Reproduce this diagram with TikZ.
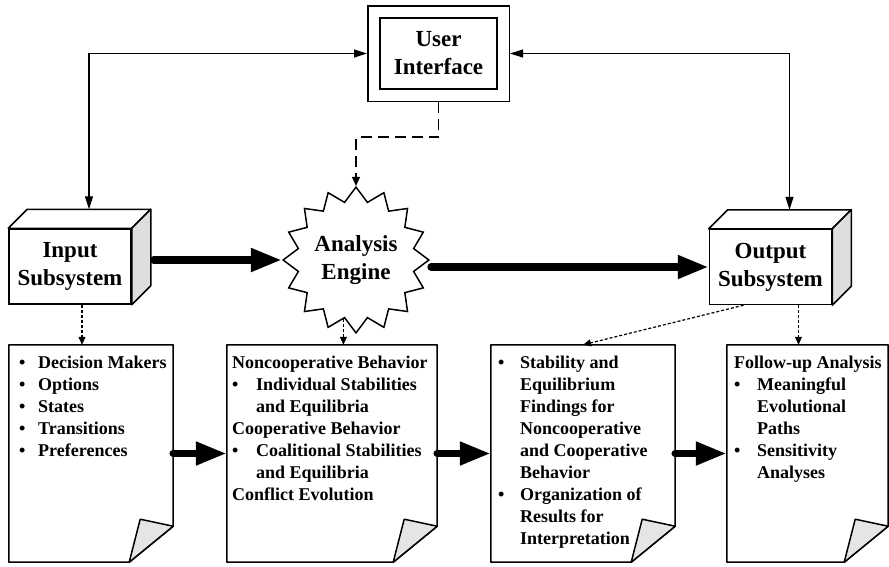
\documentclass[tikz,border=0pt]{standalone}
\usepackage{fontspec}
\setmainfont{Liberation Serif}
\usetikzlibrary{arrows.meta,calc,fit,shapes.geometric}

\definecolor{facegray}{gray}{0.87}
\definecolor{curlgray}{gray}{0.9}

% bullet item and indented continuation line inside a page
\newcommand{\bul}[2]{\makebox[#1][l]{\textbullet}#2}
\newcommand{\ind}[2]{\hspace*{#1}#2}

% 3-D depth of a subsystem box (top and right faces)
\newcommand{\cubedepth}[1]{%
  \draw[outline, line join=round, fill=white]
    (#1.north west) -- ++(19,-19) -- ($(#1.north east)+(19,-19)$) -- (#1.north east) -- cycle;
  \draw[outline, line join=round, fill=facegray]
    (#1.north east) -- ++(19,-19) -- ($(#1.south east)+(19,-19)$) -- (#1.south east) -- cycle;}

% page outline with a curled lower-right corner
\newcommand{\pageoutline}[1]{%
  \draw[outline, line join=round, fill=white]
    (#1.north west) -- (#1.north east) -- ($(#1.south east)+(0,-36)$)
    -- ($(#1.south east)+(-44,0)$) -- (#1.south west) -- cycle;
  \draw[outline, line join=round, fill=curlgray]
    ($(#1.south east)+(0,-36)$) -- ($(#1.south east)+(-33,-43)$)
    -- ($(#1.south east)+(-44,0)$) -- cycle;}

\begin{document}
\begin{tikzpicture}[x=1pt,y=-1pt,
  outline/.style={draw=black, line width=1.5pt},
  title/.style={font=\fontsize{23}{28}\selectfont\bfseries, align=center},
  facebox/.style={outline, fill=white, minimum width=122pt, minimum height=75pt, inner sep=0pt, title},
  pagebox/.style={minimum width=#1, minimum height=217pt, inner sep=0pt},
  pagetext/.style={font=\fontsize{18}{22}\selectfont\bfseries, anchor=base west, inner sep=0pt},
  thinarrow/.style={line width=1.2pt,
    {Triangle[length=13pt,width=8pt]}-{Triangle[length=13pt,width=8pt]}},
  dasharrow/.style={line width=1.3pt, dash pattern=on 11pt off 6pt,
    -{Triangle[length=9pt,width=8pt]}},
  dotarrow/.style={line width=1.2pt, dash pattern=on 3pt off 2pt,
    -{Triangle[length=8pt,width=7pt]}},
  bigarrow/.style={line width=7.5pt, line cap=round,
    -{Triangle[length=31pt,width=22pt]}}
]
\useasboundingbox (0,0) rectangle (889,566);

% user interface (double frame)
\node[outline, minimum width=117pt, minimum height=71pt, inner sep=0pt, title] (uiin) at (438.5,53.5) {User\\Interface};
\node[outline, fit=(uiin), inner sep=11.5pt] (ui) {};

% subsystems
\node[facebox] (in) at (70,266.5) {Input\\Subsystem};
\cubedepth{in}
\node[facebox] (out) at (770.5,267) {Output\\Subsystem};
\cubedepth{out}
\coordinate (intop) at ($(in.north)+(19,-19)$);
\coordinate (outtop) at ($(out.north)+(19,-19)$);

% analysis engine
\node[star, star points=16, star point ratio=1.24, minimum size=142pt, inner sep=0pt,
      outline, fill=white, title] (eng) at (356,260) {Analysis\\Engine};

% pages
\node[pagebox=164pt] (d1) at (91,453.5) {};
\node[pagebox=210pt] (d2) at (332,453.5) {};
\node[pagebox=184pt] (d3) at (583,453.5) {};
\node[pagebox=161pt] (d4) at (807.5,453.5) {};
\pageoutline{d1}
\pageoutline{d2}
\pageoutline{d3}
\pageoutline{d4}

\node[pagetext] (t1) at (19,368) {\begin{tabular}[t]{@{}l@{}}
  \bul{19pt}{Decision Makers}\\
  \bul{19pt}{Options}\\
  \bul{19pt}{States}\\
  \bul{19pt}{Transitions}\\
  \bul{19pt}{Preferences}
\end{tabular}};
\node[pagetext] (t2) at (232,368) {\begin{tabular}[t]{@{}l@{}}
  Noncooperative Behavior\\
  \bul{24pt}{Individual Stabilities}\\
  \ind{24pt}{and Equilibria}\\
  Cooperative Behavior\\
  \bul{24pt}{Coalitional Stabilities}\\
  \ind{24pt}{and Equilibria}\\
  Conflict Evolution
\end{tabular}};
\node[pagetext] (t3) at (498,368) {\begin{tabular}[t]{@{}l@{}}
  \bul{22pt}{Stability and}\\
  \ind{22pt}{Equilibrium}\\
  \ind{22pt}{Findings for}\\
  \ind{22pt}{Noncooperative}\\
  \ind{22pt}{and Cooperative}\\
  \ind{22pt}{Behavior}\\
  \bul{22pt}{Organization of}\\
  \ind{22pt}{Results for}\\
  \ind{22pt}{Interpretation}
\end{tabular}};
\node[pagetext] (t4) at (734,368) {\begin{tabular}[t]{@{}l@{}}
  Follow-up Analysis\\
  \bul{23pt}{Meaningful}\\
  \ind{23pt}{Evolutional}\\
  \ind{23pt}{Paths}\\
  \bul{23pt}{Sensitivity}\\
  \ind{23pt}{Analyses}
\end{tabular}};

% user interface links
\draw[thinarrow] (ui.west) -| (intop);
\draw[thinarrow] (ui.east) -| (outtop);
\draw[dasharrow] (ui.south) -- ++(0,35) -| (eng.north);

% main flow
\draw[bigarrow] ($(eng.west -| in.east)+(22,0)$) -- (eng.west);
\draw[bigarrow] ($(eng.east |- out.west)+(1,0)$) -- (out.west);
\draw[bigarrow] (d1.east) -- (d2.west);
\draw[bigarrow] (d2.east) -- (d3.west);
\draw[bigarrow] (d3.east) -- (d4.west);

% links to the pages
\coordinate (inlink) at ($(in.south)+(12,0)$);
\draw[dotarrow] (inlink) -- (inlink |- d1.north);
\draw[dotarrow] (eng.258.75) -- (eng.258.75 |- d2.north);
\draw[dotarrow] ($(out.south)+(-27,0)$) -- (d3.north);
\coordinate (outlink) at ($(out.south)+(28,0)$);
\draw[dotarrow] (outlink) -- (outlink |- d4.north);
\end{tikzpicture}
\end{document}
